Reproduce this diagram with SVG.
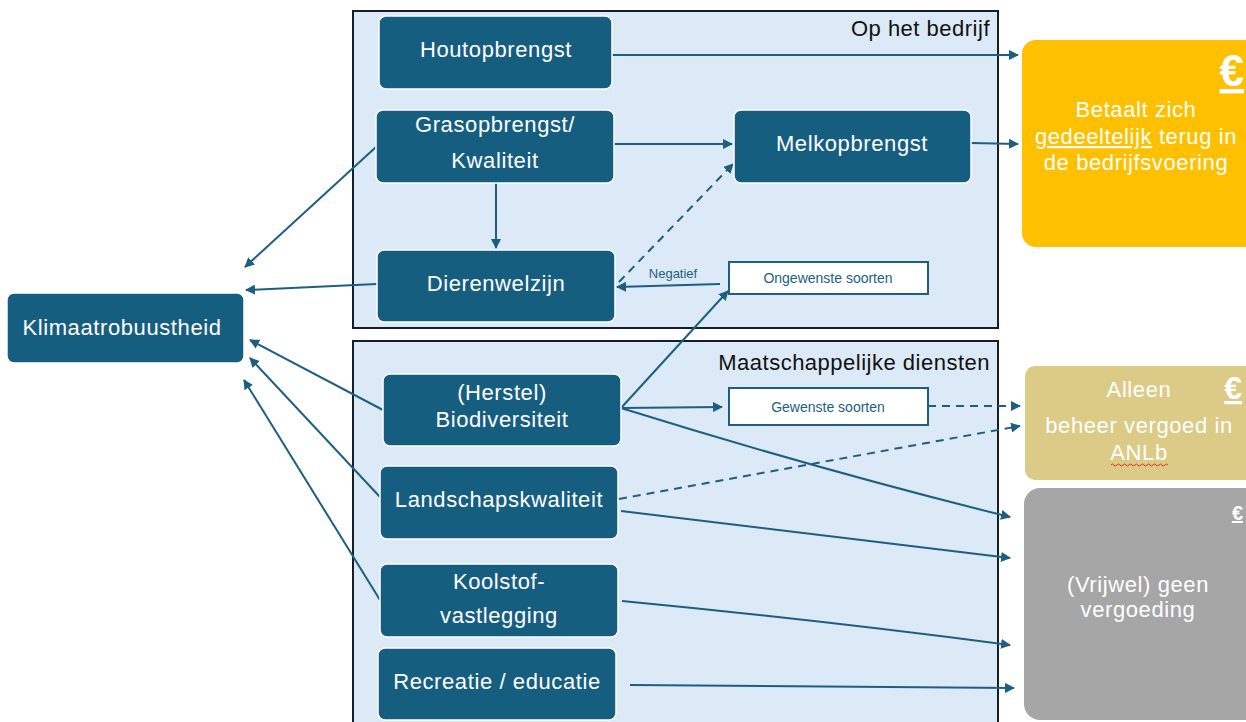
<svg xmlns="http://www.w3.org/2000/svg" width="1246" height="722" viewBox="0 0 1246 722">
  <defs>
    <marker id="arr" viewBox="0 0 10 10" refX="9" refY="5" markerWidth="5" markerHeight="5" orient="auto-start-reverse" markerUnits="strokeWidth">
      <path d="M0,0 L10,5 L0,10 z" fill="#1d5f80"/>
    </marker>
    <style>
      .frame { fill: #dce9f6; stroke: #13202c; stroke-width: 2; }
      .frame-title { font-family: "Liberation Sans", Arial, sans-serif; font-size: 22px; letter-spacing: 0.5px; fill: #111; text-anchor: end; }
      .node rect { fill: #165e80; stroke: #ffffff; stroke-width: 1.5; }
      .node text { font-family: "Liberation Sans", Arial, sans-serif; font-size: 22px; letter-spacing: 0.6px; fill: #ffffff; text-anchor: middle; }
      .tag rect { fill: #ffffff; stroke: #1d5f80; stroke-width: 2; }
      .tag text { font-family: "Liberation Sans", Arial, sans-serif; font-size: 14px; fill: #1d5f80; text-anchor: middle; }
      .pay text { font-family: "Liberation Sans", Arial, sans-serif; font-size: 22px; letter-spacing: 0.6px; fill: #ffffff; text-anchor: middle; }
      .pay .euro { font-weight: bold; text-decoration: underline; text-anchor: end; letter-spacing: 0; }
      .edge { fill: none; stroke: #1d5f80; stroke-width: 2; marker-end: url(#arr); }
      .dash { stroke-dasharray: 8 6; }
      .lbl { font-family: "Liberation Sans", Arial, sans-serif; font-size: 13px; fill: #1d5f80; text-anchor: middle; }
    </style>
  </defs>

  <rect width="1246" height="722" fill="#ffffff"/>

  <!-- Frames -->
  <g id="frame-bedrijf">
    <rect class="frame" x="353" y="11" width="645" height="317"/>
    <text class="frame-title" x="990" y="36">Op het bedrijf</text>
  </g>
  <g id="frame-maatschappij">
    <rect class="frame" x="353" y="341" width="645" height="400"/>
    <text class="frame-title" x="990" y="370">Maatschappelijke diensten</text>
  </g>

  <!-- Payment outcome panels -->
  <g id="pay-partial" class="pay">
    <rect x="1022" y="40" width="240" height="207" rx="14" fill="#ffc000"/>
    <text class="euro" x="1244" y="86" style="font-size:44px">€</text>
    <text x="1136" y="117">Betaalt zich</text>
    <text x="1136" y="144"><tspan text-decoration="underline">gedeeltelijk</tspan> terug in</text>
    <text x="1136" y="170">de bedrijfsvoering</text>
  </g>
  <g id="pay-anlb" class="pay">
    <rect x="1025" y="366" width="235" height="114" rx="10" fill="#dccb86"/>
    <text class="euro" x="1242" y="399" style="font-size:32px">€</text>
    <text x="1139" y="397">Alleen</text>
    <text x="1139" y="433">beheer vergoed in</text>
    <text x="1139" y="460">ANLb</text>
    <path d="M1111,465 q1.5,-2 3,0 t3,0 t3,0 t3,0 t3,0 t3,0 t3,0 t3,0 t3,0 t3,0 t3,0 t3,0 t3,0 t3,0 t3,0 t3,0 t3,0 t3,0 t3,0" fill="none" stroke="#e0301e" stroke-width="1"/>
  </g>
  <g id="pay-none" class="pay">
    <rect x="1024" y="488" width="236" height="232" rx="16" fill="#a6a6a6"/>
    <text class="euro" x="1243" y="520" style="font-size:20px">€</text>
    <text x="1138" y="592">(Vrijwel) geen</text>
    <text x="1138" y="617">vergoeding</text>
  </g>

  <!-- Connectors -->
  <g id="connectors">
    <line class="edge" x1="612" y1="55" x2="1018" y2="55"/>
    <line class="edge" x1="614" y1="144" x2="732" y2="144"/>
    <line class="edge" x1="971" y1="143" x2="1018" y2="144"/>
    <line class="edge" x1="496" y1="183" x2="496" y2="248"/>
    <line class="edge" x1="376" y1="147" x2="245" y2="267"/>
    <line class="edge" x1="377" y1="284" x2="246" y2="290"/>
    <line class="edge" x1="720" y1="284" x2="617" y2="287"/>
    <line class="edge dash" x1="619" y1="282" x2="733" y2="164"/>
    <line class="edge" x1="621" y1="408" x2="728" y2="291"/>
    <line class="edge" x1="621" y1="408" x2="722" y2="407"/>
    <line class="edge dash" x1="928" y1="406" x2="1020" y2="406"/>
    <path class="edge" d="M621,408 Q820,470 1010,517"/>
    <line class="edge dash" x1="619" y1="499" x2="1020" y2="426"/>
    <path class="edge" d="M621,511 Q820,535 1010,558"/>
    <path class="edge" d="M622,601 Q820,620 1010,645"/>
    <line class="edge" x1="630" y1="685" x2="1014" y2="688"/>
    <line class="edge" x1="383" y1="410" x2="250" y2="340"/>
    <line class="edge" x1="380" y1="497" x2="250" y2="358"/>
    <line class="edge" x1="380" y1="600" x2="244" y2="380"/>
    <text class="lbl" x="673" y="278">Negatief</text>
  </g>

  <!-- Nodes -->
  <g id="node-houtopbrengst" class="node">
    <rect x="379" y="16" width="233" height="73" rx="7"/>
    <text x="496" y="57">Houtopbrengst</text>
  </g>
  <g id="node-grasopbrengst" class="node">
    <rect x="376" y="110" width="238" height="73" rx="7"/>
    <text x="495" y="132">Grasopbrengst/</text>
    <text x="495" y="168">Kwaliteit</text>
  </g>
  <g id="node-melkopbrengst" class="node">
    <rect x="734" y="110" width="237" height="73" rx="7"/>
    <text x="852" y="151">Melkopbrengst</text>
  </g>
  <g id="node-dierenwelzijn" class="node">
    <rect x="377" y="250" width="238" height="72" rx="7"/>
    <text x="496" y="291">Dierenwelzijn</text>
  </g>
  <g id="node-klimaatrobuustheid" class="node">
    <rect x="7" y="293" width="237" height="70" rx="7"/>
    <text x="122" y="335">Klimaatrobuustheid</text>
  </g>
  <g id="node-biodiversiteit" class="node">
    <rect x="383" y="374" width="238" height="72" rx="7"/>
    <text x="502" y="400">(Herstel)</text>
    <text x="502" y="427">Biodiversiteit</text>
  </g>
  <g id="node-landschapskwaliteit" class="node">
    <rect x="380" y="466" width="238" height="73" rx="7"/>
    <text x="499" y="507">Landschapskwaliteit</text>
  </g>
  <g id="node-koolstof" class="node">
    <rect x="380" y="564" width="238" height="73" rx="7"/>
    <text x="499" y="589">Koolstof-</text>
    <text x="499" y="623">vastlegging</text>
  </g>
  <g id="node-recreatie" class="node">
    <rect x="378" y="648" width="238" height="72" rx="7"/>
    <text x="497" y="689">Recreatie / educatie</text>
  </g>
  <g id="node-ongewenste" class="tag">
    <rect x="729" y="262" width="199" height="32"/>
    <text x="828" y="283">Ongewenste soorten</text>
  </g>
  <g id="node-gewenste" class="tag">
    <rect x="729" y="388" width="199" height="37"/>
    <text x="828" y="412">Gewenste soorten</text>
  </g>
</svg>
